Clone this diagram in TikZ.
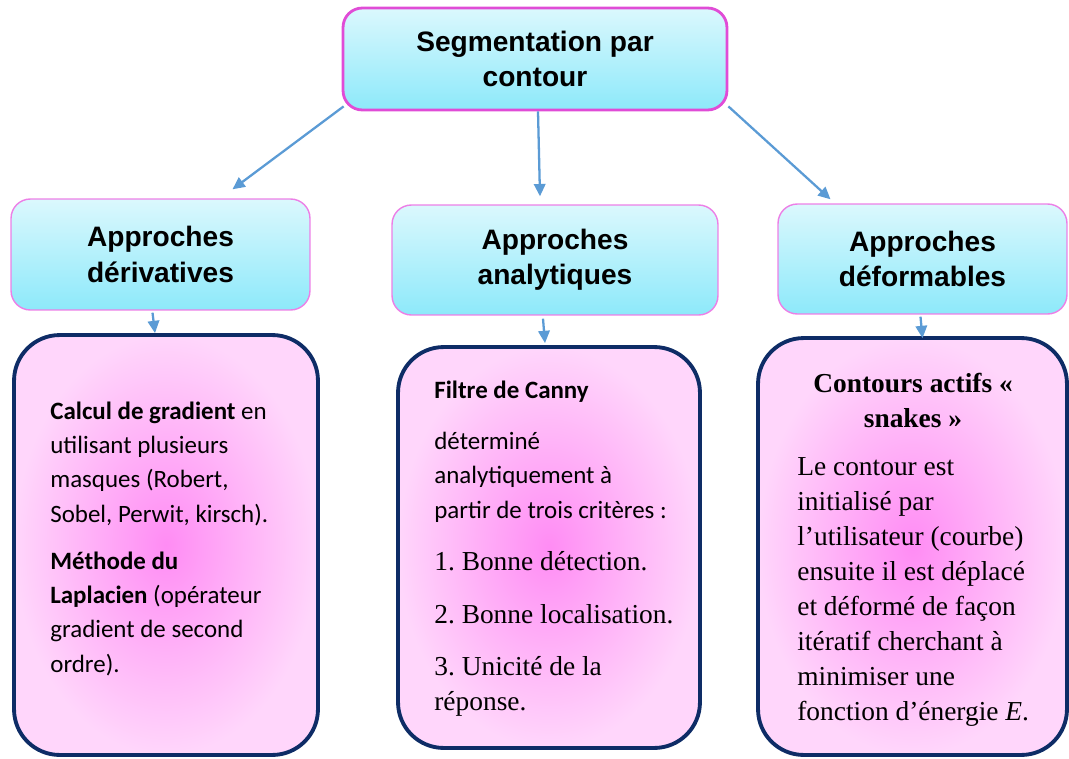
\documentclass[tikz,border=0pt]{standalone}
\usepackage{fontspec}
\newfontfamily\arialfont{Liberation Sans}
\newfontfamily\calibrifont{Carlito}
\newfontfamily\timesfont{Liberation Serif}
\usetikzlibrary{arrows.meta}
\usetikzlibrary{calc}

\definecolor{cyanhi}{HTML}{DBF8FD}
\definecolor{cyanlo}{HTML}{8DE9FA}
\definecolor{magborder}{HTML}{E04CD6}
\definecolor{pinkborder}{HTML}{EC7FE6}
\definecolor{navyborder}{HTML}{0E2C66}
\definecolor{pinkin}{HTML}{FF8CF4}
\definecolor{pinkout}{HTML}{FFD6FB}
\definecolor{arrowblue}{HTML}{5B9BD5}

\tikzset{
  titlebox/.style={draw=magborder, line width=1.6pt, rounded corners=11pt,
    top color=cyanhi, bottom color=cyanlo, align=center,
    font=\arialfont\bfseries\fontsize{16}{20}\selectfont},
  headbox/.style={titlebox, draw=pinkborder, line width=0.8pt},
  infobox/.style={draw=navyborder, line width=2.2pt, rounded corners=26pt,
    inner color=pinkin, outer color=pinkout},
  flow/.style={draw=arrowblue, line width=1.3pt, -{Triangle[length=7pt,width=6.5pt]}},
  calibritext/.style={font=\calibrifont\frenchspacing\fontsize{14.2}{19.4}\selectfont,
    align=left, anchor=base west, inner sep=0pt},
  timestext/.style={font=\timesfont\frenchspacing\fontsize{15.6}{19.9}\selectfont,
    align=left, anchor=base west, inner sep=0pt},
}

\begin{document}
\begin{tikzpicture}[x=0.02cm, y=-0.02cm]
        \useasboundingbox (0,0) rectangle (1069,758);
        %%%BOXES%%%
        \node[titlebox, minimum width=7.68cm, minimum height=2.04cm] (seg) at (535,59) {Segmentation par\\contour};
        \node[headbox, minimum width=5.98cm, minimum height=2.22cm] (deriv) at (160.5,254.5) {Approches\\dérivatives};
        \node[headbox, minimum width=6.52cm, minimum height=2.2cm] (analy) at (555,260) {Approches\\analytiques};
        \node[headbox, minimum width=5.78cm, minimum height=2.2cm] (deform) at (922.5,259) {Approches\\déformables};
        %next
        \node[infobox, minimum width=6.08cm, minimum height=8.4cm] (gradbox) at (166,545) {};
        \node[infobox, minimum width=6.04cm, minimum height=8.02cm] (cannybox) at (549,547.5) {};
        \node[infobox, minimum width=6.18cm, minimum height=8.34cm] (snakebox) at (912.5,546.5) {};
        %arrows
        \draw[flow] ($(seg.south west)+(2,-5)$) -- ($(deriv.north)+(72,-9)$);
        \draw[flow] ($(seg.south)+(3,0)$) -- ($(analy.north)+(-15,-8)$);
        \draw[flow] ($(seg.south east)+(0,-5)$) -- ($(deform.north)+(-92,-4)$);
        \draw[flow] ($(deriv.south)+(-8,2)$) -- ($(gradbox.north)+(-11,0)$);
        \draw[flow] ($(analy.south)+(-12,3)$) -- ($(cannybox.north)+(-4,-2)$);
        \draw[flow] ($(deform.south)+(-2,2)$) -- ($(snakebox.north)+(10,2)$);
        %text left (base = last line)
        \node[calibritext] (gradtxt) at (50,522) {\textbf{Calcul de gradient} en\\utilisant plusieurs\\masques (Robert,\\Sobel, Perwit, kirsch).};
        \node[calibritext] (laptxt) at (50,672) {\textbf{Méthode du}\\\textbf{Laplacien} (opérateur\\gradient de second\\ordre).};
        %text middle
        \node[calibritext] (cannytxt) at (434,398) {\textbf{Filtre de Canny}};
        \node[calibritext] (dettxt) at (434,518) {déterminé\\analytiquement à\\partir de trois critères :};
        \node[timestext] (onetxt) at (434,570) {1. Bonne détection.};
        \node[timestext] (twotxt) at (434,623) {2. Bonne localisation.};
        \node[timestext] (threetxt) at (434,710) {3. Unicité de la\\réponse.};
        %text right
        \node[timestext, anchor=base, align=center, font=\timesfont\bfseries\fontsize{15.6}{19.9}\selectfont] (snaketitle) at (913,427) {Contours actifs «\\snakes »};
        \node[timestext] (snaketxt) at (797,720) {Le contour est\\initialisé par\\l’utilisateur (courbe)\\ensuite il est déplacé\\et déformé de façon\\itératif cherchant à\\minimiser une\\fonction d’énergie \textit{E}.};
\end{tikzpicture}
\end{document}
